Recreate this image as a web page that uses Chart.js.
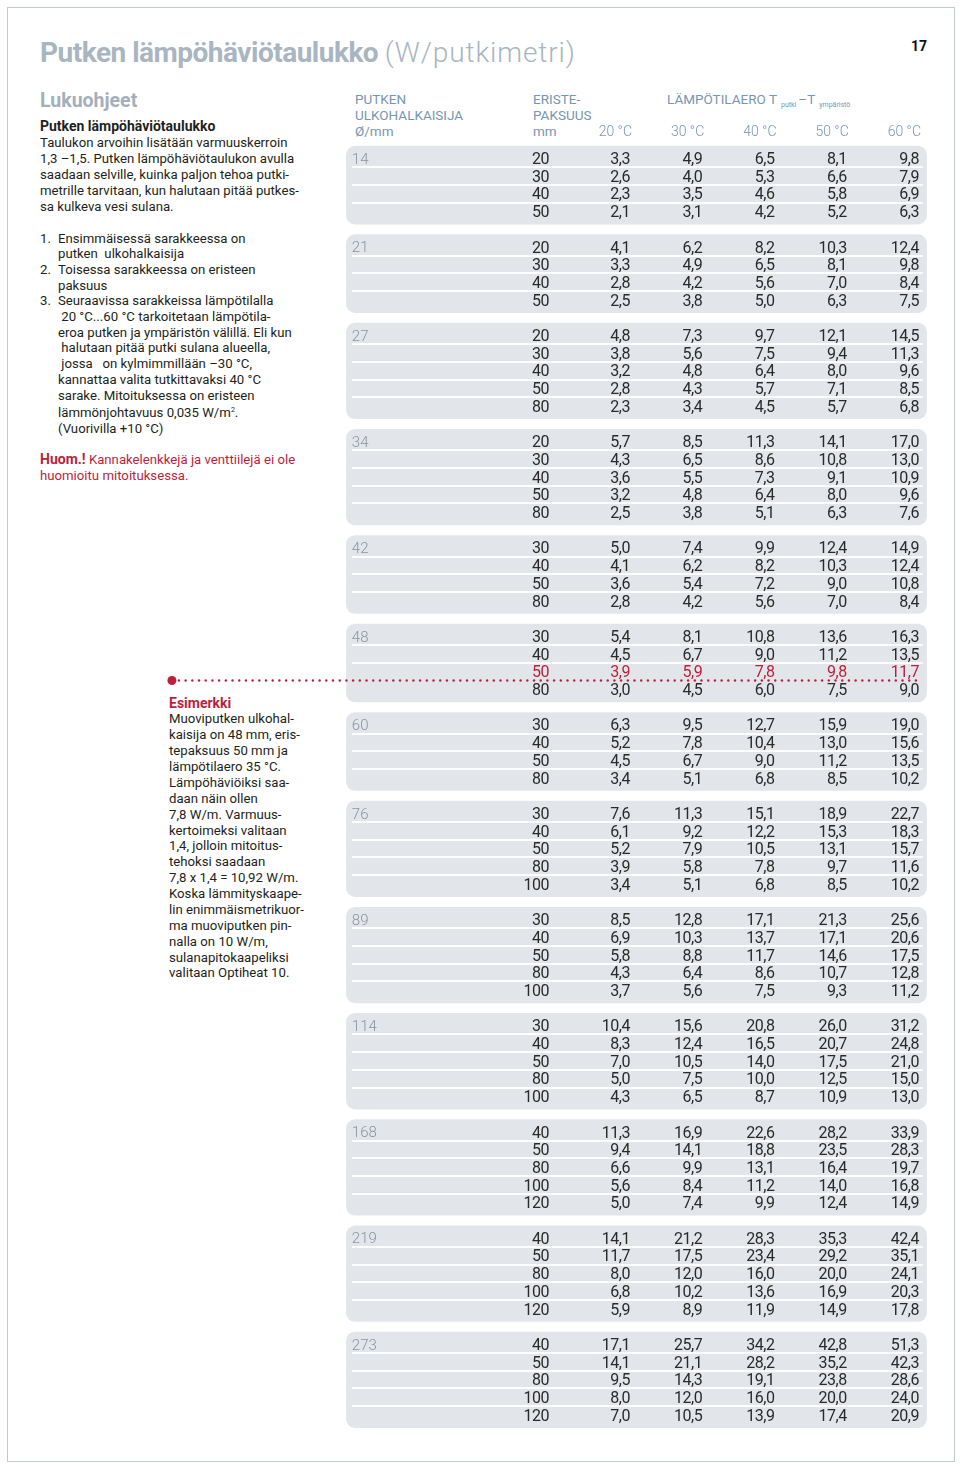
<!DOCTYPE html>
<html lang="fi">
<head>
<meta charset="utf-8">
<title>Putken lämpöhäviötaulukko</title>
<script src="https://cdn.jsdelivr.net/npm/chart.js@4.4.1/dist/chart.umd.min.js"></script>
<style>
  html, body { margin: 0; padding: 0; background: #fff; }
  body { width: 960px; height: 1469px; position: relative; overflow: hidden;
         font-family: Roboto, "Open Sans", sans-serif; color: #231f20; }
  .frame { position: absolute; left: 7px; top: 7px; width: 948px; height: 1455px;
           border: 1px solid #c3cad0; box-sizing: border-box; }
  .abs { position: absolute; white-space: pre; margin: 0; }
  .title { left: 40px; top: 37px; font-size: 28px; line-height: 32px; color: #a9b5c1; font-weight: 700; letter-spacing: -0.5px; }
  .title span { font-weight: 300; letter-spacing: 0.9px; }
  .pageno { left: 911px; top: 38px; font-size: 14px; line-height: 16px; font-weight: 700; color: #111; }
  .lead { left: 40px; top: 90px; font-size: 19.5px; line-height: 22px; font-weight: 700; color: #a3b0bc; }
  .body { left: 40px; font-size: 13.2px; color: #231f20; }
  .body b { font-size: 14px; }
  .red { color: #be1e3c; }
  .hdr { top: 91px; font-size: 13.5px; line-height: 16px; color: #7895b3; }
  .hdr small { font-size: 7px; vertical-align: -3px; margin: 0 2px 0 4px; }
  sup { font-size: 7px; vertical-align: 5px; }
  #wrap { position: absolute; left: 160px; top: 85px; width: 780px; height: 1360px; }
</style>
</head>
<body>
<div class="frame"></div>
<div class="abs title">Putken lämpöhäviötaulukko <span>(W/putkimetri)</span></div>
<div class="abs pageno">17</div>

<div class="abs lead">Lukuohjeet</div>
<div class="abs body" style="top:118px; line-height:16px;"><b>Putken lämpöhäviötaulukko</b>
Taulukon arvoihin lisätään varmuuskerroin
1,3 –1,5. Putken lämpöhäviötaulukon avulla
saadaan selville, kuinka paljon tehoa putki-
metrille tarvitaan, kun halutaan pitää putkes-
sa kulkeva vesi sulana.</div>

<div class="abs body" style="top:230.5px; line-height:15.7px;">1.

2.

3.</div>
<div class="abs body" style="left:58px; top:230.5px; line-height:15.7px;">Ensimmäisessä sarakkeessa on
putken  ulkohalkaisija
Toisessa sarakkeessa on eristeen
paksuus
Seuraavissa sarakkeissa lämpötilalla
 20 °C...60 °C tarkoitetaan lämpötila-
eroa putken ja ympäristön välillä. Eli kun
 halutaan pitää putki sulana alueella,
 jossa   on kylmimmillään –30 °C,
kannattaa valita tutkittavaksi 40 °C
sarake. Mitoituksessa on eristeen
lämmönjohtavuus 0,035 W/m<sup>2</sup>.
(Vuorivilla +10 °C)</div>

<div class="abs body red" style="top:452px; line-height:15.5px;"><b>Huom.!</b> Kannakelenkkejä ja venttiilejä ei ole
huomioitu mitoituksessa.</div>

<div class="abs body" style="left:169px; top:695.5px; line-height:15.88px;"><b class="red">Esimerkki</b>
Muoviputken ulkohal-
kaisija on 48 mm, eris-
tepaksuus 50 mm ja
lämpötilaero 35 °C.
Lämpöhäviöiksi saa-
daan näin ollen
7,8 W/m. Varmuus-
kertoimeksi valitaan
1,4, jolloin mitoitus-
tehoksi saadaan
7,8 x 1,4 = 10,92 W/m.
Koska lämmityskaape-
lin enimmäismetrikuor-
ma muoviputken pin-
nalla on 10 W/m,
sulanapitokaapeliksi
valitaan Optiheat 10.</div>

<div class="abs hdr" style="left:355px;">PUTKEN
ULKOHALKAISIJA
Ø/mm</div>
<div class="abs hdr" style="left:533px;">ERISTE-
PAKSUUS
mm</div>
<div class="abs hdr" style="left:667px;">LÄMPÖTILAERO T<small>putki</small>–T<small>ympäristö</small></div>

<div id="wrap"><canvas id="table" width="780" height="1360"></canvas></div>

<script>
// putken ulkohalkaisija (mm), yksi ryhmä per halkaisija
const diameters = [14, 21, 27, 34, 42, 48, 60, 76, 89, 114, 168, 219, 273];

// eristepaksuus (mm) per ryhmä
const thickness = [
  [20, 30, 40, 50],
  [20, 30, 40, 50],
  [20, 30, 40, 50, 80],
  [20, 30, 40, 50, 80],
  [30, 40, 50, 80],
  [30, 40, 50, 80],
  [30, 40, 50, 80],
  [30, 40, 50, 80, 100],
  [30, 40, 50, 80, 100],
  [30, 40, 50, 80, 100],
  [40, 50, 80, 100, 120],
  [40, 50, 80, 100, 120],
  [40, 50, 80, 100, 120]
];

// lämpötilaerot (°C)
const temps = [20, 30, 40, 50, 60];

// lämpöhäviö W/m, sarakkeittain
const loss20 = [
  [3.3, 2.6, 2.3, 2.1], [4.1, 3.3, 2.8, 2.5], [4.8, 3.8, 3.2, 2.8, 2.3], [5.7, 4.3, 3.6, 3.2, 2.5],
  [5.0, 4.1, 3.6, 2.8], [5.4, 4.5, 3.9, 3.0], [6.3, 5.2, 4.5, 3.4], [7.6, 6.1, 5.2, 3.9, 3.4],
  [8.5, 6.9, 5.8, 4.3, 3.7], [10.4, 8.3, 7.0, 5.0, 4.3], [11.3, 9.4, 6.6, 5.6, 5.0],
  [14.1, 11.7, 8.0, 6.8, 5.9], [17.1, 14.1, 9.5, 8.0, 7.0]
];
const loss30 = [
  [4.9, 4.0, 3.5, 3.1], [6.2, 4.9, 4.2, 3.8], [7.3, 5.6, 4.8, 4.3, 3.4], [8.5, 6.5, 5.5, 4.8, 3.8],
  [7.4, 6.2, 5.4, 4.2], [8.1, 6.7, 5.9, 4.5], [9.5, 7.8, 6.7, 5.1], [11.3, 9.2, 7.9, 5.8, 5.1],
  [12.8, 10.3, 8.8, 6.4, 5.6], [15.6, 12.4, 10.5, 7.5, 6.5], [16.9, 14.1, 9.9, 8.4, 7.4],
  [21.2, 17.5, 12.0, 10.2, 8.9], [25.7, 21.1, 14.3, 12.0, 10.5]
];
const loss40 = [
  [6.5, 5.3, 4.6, 4.2], [8.2, 6.5, 5.6, 5.0], [9.7, 7.5, 6.4, 5.7, 4.5], [11.3, 8.6, 7.3, 6.4, 5.1],
  [9.9, 8.2, 7.2, 5.6], [10.8, 9.0, 7.8, 6.0], [12.7, 10.4, 9.0, 6.8], [15.1, 12.2, 10.5, 7.8, 6.8],
  [17.1, 13.7, 11.7, 8.6, 7.5], [20.8, 16.5, 14.0, 10.0, 8.7], [22.6, 18.8, 13.1, 11.2, 9.9],
  [28.3, 23.4, 16.0, 13.6, 11.9], [34.2, 28.2, 19.1, 16.0, 13.9]
];
const loss50 = [
  [8.1, 6.6, 5.8, 5.2], [10.3, 8.1, 7.0, 6.3], [12.1, 9.4, 8.0, 7.1, 5.7], [14.1, 10.8, 9.1, 8.0, 6.3],
  [12.4, 10.3, 9.0, 7.0], [13.6, 11.2, 9.8, 7.5], [15.9, 13.0, 11.2, 8.5], [18.9, 15.3, 13.1, 9.7, 8.5],
  [21.3, 17.1, 14.6, 10.7, 9.3], [26.0, 20.7, 17.5, 12.5, 10.9], [28.2, 23.5, 16.4, 14.0, 12.4],
  [35.3, 29.2, 20.0, 16.9, 14.9], [42.8, 35.2, 23.8, 20.0, 17.4]
];
const loss60 = [
  [9.8, 7.9, 6.9, 6.3], [12.4, 9.8, 8.4, 7.5], [14.5, 11.3, 9.6, 8.5, 6.8], [17.0, 13.0, 10.9, 9.6, 7.6],
  [14.9, 12.4, 10.8, 8.4], [16.3, 13.5, 11.7, 9.0], [19.0, 15.6, 13.5, 10.2], [22.7, 18.3, 15.7, 11.6, 10.2],
  [25.6, 20.6, 17.5, 12.8, 11.2], [31.2, 24.8, 21.0, 15.0, 13.0], [33.9, 28.3, 19.7, 16.8, 14.9],
  [42.4, 35.1, 24.1, 20.3, 17.8], [51.3, 42.3, 28.6, 24.0, 20.9]
];
const losses = [loss20, loss30, loss40, loss50, loss60];

// esimerkkirivi (punainen)
const example = { diameter: 48, thickness: 50 };

// asettelu (x-akselin yksikkö = °C-sarakkeet, y = rivi)
const DIAM_COL = -18.5, THICK_COL = 8.8;
const TABLE_LEFT = -19.3, TABLE_RIGHT = 61.1, SEP_LEFT = -18.5, SEP_RIGHT = 60.5;
const DOT_START = -43.4, DOT_END = 60.2;
const HEADER_ROW = -1.54;
const BG = '#e2e6eb', INK = '#2a2a2a', MUTED = '#8a949e', HEAD = '#7895b3', RED = '#be1e3c';

const fmt = v => v.toFixed(1).replace('.', ',');

// ryhmien aloitusrivit (tyhjä rivi ryhmien välissä)
const rowStart = [];
let r = 0;
thickness.forEach(list => { rowStart.push(r); r += list.length + 1; });

const isExample = (g, i) => diameters[g] === example.diameter && thickness[g][i] === example.thickness;

const diamData = diameters.map((d, g) => ({ x: DIAM_COL, y: rowStart[g], label: String(d) }));
const thickData = [];
thickness.forEach((list, g) => list.forEach((t, i) => {
  thickData.push({ x: THICK_COL, y: rowStart[g] + i, label: String(t), hl: isExample(g, i) });
}));
const lossSets = temps.map((t, k) => {
  const data = [];
  losses[k].forEach((list, g) => list.forEach((v, i) => {
    data.push({ x: t, y: rowStart[g] + i, label: fmt(v), hl: isExample(g, i) });
  }));
  return { label: t + ' °C', kind: 'loss', data, pointRadius: 0 };
});

const tablePlugin = {
  id: 'tablePlugin',
  beforeDatasetsDraw(chart) {
    const { ctx, scales: { x, y } } = chart;
    ctx.save();
    const left = x.getPixelForValue(TABLE_LEFT), right = x.getPixelForValue(TABLE_RIGHT);
    thickness.forEach((list, g) => {
      const n = list.length;
      const top = y.getPixelForValue(rowStart[g]) - 12.5;
      const bottom = y.getPixelForValue(rowStart[g] + n - 1) + 13;
      ctx.fillStyle = BG;
      ctx.beginPath();
      ctx.roundRect(left, top, right - left, bottom - top, 9);
      ctx.fill();
      ctx.strokeStyle = '#fff';
      ctx.lineWidth = 2;
      for (let i = 0; i < n - 1; i++) {
        if (isExample(g, i)) continue;
        const yy = Math.round(y.getPixelForValue(rowStart[g] + i + 0.5));
        ctx.beginPath();
        ctx.moveTo(x.getPixelForValue(SEP_LEFT), yy);
        ctx.lineTo(x.getPixelForValue(SEP_RIGHT), yy);
        ctx.stroke();
      }
    });
    // punainen pisteviiva esimerkkiriville
    const g = diameters.indexOf(example.diameter);
    const ey = y.getPixelForValue(rowStart[g] + thickness[g].indexOf(example.thickness) + 0.5);
    const x0 = x.getPixelForValue(DOT_START), x1 = x.getPixelForValue(DOT_END);
    ctx.fillStyle = RED;
    ctx.beginPath(); ctx.arc(x0, ey, 4.5, 0, Math.PI * 2); ctx.fill();
    for (let px = x0 + 7; px <= x1; px += 6.7) {
      ctx.beginPath(); ctx.arc(px, ey, 1.2, 0, Math.PI * 2); ctx.fill();
    }
    ctx.restore();
  },
  afterDatasetsDraw(chart) {
    const { ctx, scales: { x, y } } = chart;
    ctx.save();
    // sarakeotsikot
    ctx.font = '300 14px Roboto';
    ctx.fillStyle = HEAD;
    ctx.textAlign = 'right';
    ctx.textBaseline = 'alphabetic';
    temps.forEach(t => ctx.fillText(t + ' °C', x.getPixelForValue(t) + 2, y.getPixelForValue(HEADER_ROW) + 5));

    chart.data.datasets.forEach((ds, di) => {
      const meta = chart.getDatasetMeta(di);
      meta.data.forEach((el, j) => {
        const p = ds.data[j];
        if (ds.kind === 'diameter') {
          ctx.font = '300 15px Roboto';
          ctx.letterSpacing = '0px';
          ctx.fillStyle = MUTED;
          ctx.textAlign = 'left';
          ctx.fillText(p.label, el.x, el.y + 5.4);
        } else {
          ctx.font = '16px Roboto';
          ctx.letterSpacing = '-0.5px';
          ctx.fillStyle = p.hl ? RED : INK;
          ctx.textAlign = 'right';
          ctx.fillText(p.label, el.x, el.y + 5.8);
        }
      });
    });
    ctx.restore();
  }
};

new Chart(document.getElementById('table'), {
  type: 'scatter',
  data: {
    datasets: [
      { label: 'Ø/mm', kind: 'diameter', data: diamData, pointRadius: 0 },
      { label: 'mm', kind: 'thickness', data: thickData, pointRadius: 0 },
      ...lossSets
    ]
  },
  options: {
    responsive: false,
    animation: false,
    events: [],
    layout: { padding: 0 },
    plugins: { legend: { display: false }, tooltip: { enabled: false } },
    scales: {
      x: { type: 'linear', display: false, min: -45.05, max: 62.91 },
      y: { type: 'linear', display: false, reverse: true, min: -4.141, max: 72.695 }
    }
  },
  plugins: [tablePlugin]
});
</script>
</body>
</html>
